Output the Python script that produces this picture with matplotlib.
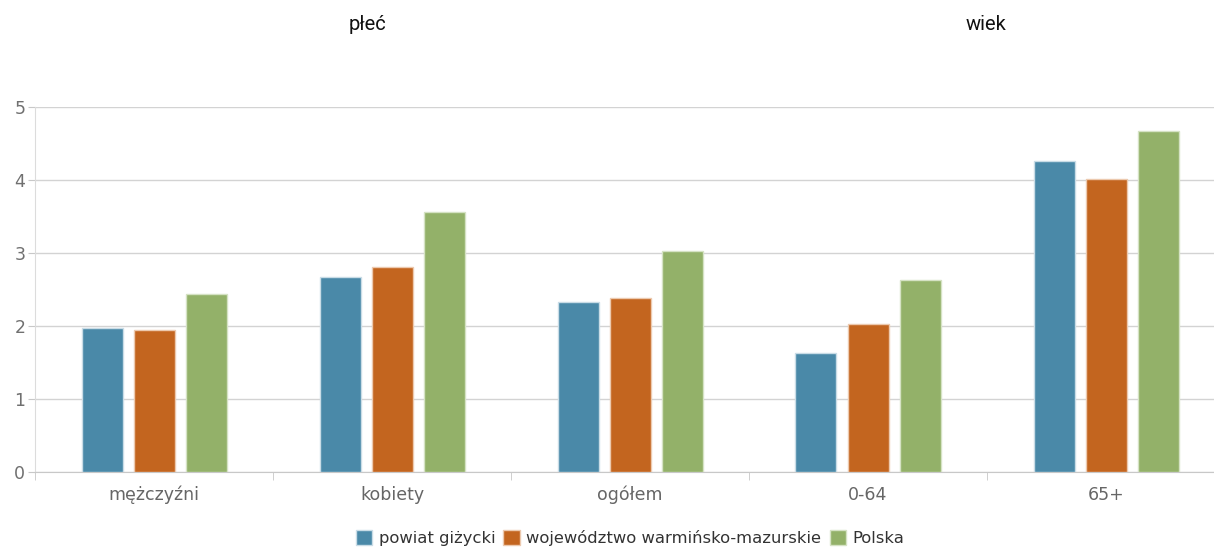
import matplotlib
matplotlib.use("Agg")
import matplotlib.pyplot as plt
import matplotlib.patches as mpatches
import numpy as np

# data
categories = ["mężczyźni", "kobiety", "ogółem", "0-64", "65+"]
series_names = ["powiat giżycki", "województwo warmińsko-mazurskie", "Polska"]
powiat = [1.97, 2.67, 2.33, 1.63, 4.26]
wojewodztwo = [1.95, 2.81, 2.38, 2.03, 4.02]
polska = [2.44, 3.56, 3.03, 2.63, 4.67]
group_titles = ["płeć", "wiek"]

COLORS = ["#4a89a8", "#c3651f", "#93b169"]
EDGES = ["#c9dce6", "#ecc9ae", "#d5e2c4"]
W, H = 1214, 548
BAR_W = 41 / 238
STEP = 52 / 238

fig = plt.figure(figsize=(W / 100, H / 100), dpi=100)
ax = fig.add_axes([35 / W, 76 / H, (W - 35) / W, 365 / H])

x = np.arange(len(categories))
for i, vals in enumerate([powiat, wojewodztwo, polska]):
    ax.bar(x + (i - 1) * STEP, vals, width=BAR_W, color=COLORS[i],
           edgecolor=EDGES[i], linewidth=1, zorder=3)

ax.set_ylim(0, 5)
ax.set_xlim(-0.5, (W - 35) / 238 - 0.5)
ax.set_yticks(range(6))
ax.yaxis.grid(True, color="#d3d3d3", lw=1, zorder=0)
ax.tick_params(axis="y", length=5, color="#c8c8c8", labelsize=12.5,
               labelcolor="#707070", pad=2)
ax.set_xticks(x)
ax.set_xticklabels(categories, fontsize=12.5, color="#666666")
ax.tick_params(axis="x", length=0, pad=10)
ax.set_xticks(np.arange(len(categories)) - 0.5, minor=True)
ax.tick_params(axis="x", which="minor", length=6, color="#c8c8c8")
for s in ["top", "right"]:
    ax.spines[s].set_visible(False)
ax.spines["left"].set_color("#dcdcdc")
ax.spines["bottom"].set_color("#c8c8c8")

# group titles above the chart
fig.text(368 / W, 1 - 25 / H, group_titles[0], ha="center", va="center",
         fontsize=14.5, family="Roboto", color="#111111")
fig.text(986 / W, 1 - 25 / H, group_titles[1], ha="center", va="center",
         fontsize=14.5, family="Roboto", color="#111111")

handles = [mpatches.Patch(facecolor=COLORS[i], edgecolor=EDGES[i], label=series_names[i])
           for i in range(3)]
fig.legend(handles=handles, loc="center", bbox_to_anchor=(630 / W, 1 - 538 / H),
           ncol=3, frameon=False, fontsize=11.8, handlelength=1.0, handleheight=1.0,
           handletextpad=0.4, columnspacing=0.5, labelcolor="#333333")

fig.savefig("out.png", dpi=100)
